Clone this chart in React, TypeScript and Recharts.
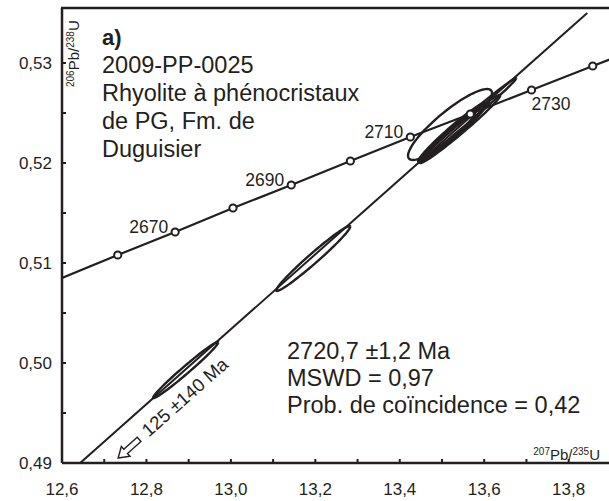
import { ScatterChart, Scatter, XAxis, YAxis } from "recharts";

const FONT = '"Liberation Sans", Arial, Helvetica, sans-serif';
const INK = "#231f20";

// concordia points (Ma) and their ratios
const concordiaAges = [2660, 2670, 2680, 2690, 2700, 2710, 2720, 2730, 2740];
const concordiaX = [12.732, 12.868, 13.005, 13.143, 13.283, 13.425, 13.567, 13.712, 13.857];
const concordiaY = [0.5108, 0.5131, 0.5155, 0.5178, 0.5202, 0.5226, 0.5249, 0.5273, 0.5297];
const labelledAges = [2670, 2690, 2710, 2730];

// concordia curve, running off both edges of the plot
const concordiaLineX = [12.6, ...concordiaX, 13.95];
const concordiaLineY = [0.5085, ...concordiaY, 0.5312];

// discordia line
const discordiaX = [12.643, 13.844];
const discordiaY = [0.49, 0.535];

// error ellipses: centre, half extent in x and y, correlation
const ellipseCx = [12.893, 13.195, 13.519, 13.56, 13.523, 13.516, 13.543];
const ellipseCy = [0.4993, 0.51045, 0.52385, 0.52435, 0.52305, 0.5227, 0.5234];
const ellipseHx = [0.077, 0.0877, 0.0995, 0.116, 0.0794, 0.063, 0.095];
const ellipseHy = [0.0028, 0.00325, 0.00355, 0.00415, 0.00295, 0.0024, 0.0034];
const ellipseRho = [0.985, 0.98, 0.88, 0.995, 0.975, 0.97, 0.985];

const xTicks = [12.6, 12.7, 12.8, 12.9, 13.0, 13.1, 13.2, 13.3, 13.4, 13.5, 13.6, 13.7, 13.8, 13.9];
const yTicks = [0.49, 0.495, 0.5, 0.505, 0.51, 0.515, 0.52, 0.525, 0.53];

const lowerIntercept = { x: 12.891, y: 0.4966, text: "125 ±140 Ma" };
const arrowTip = { x: 12.733, y: 0.4905 };

const concordiaLine = concordiaLineX.map((x, i) => ({ x, y: concordiaLineY[i] }));
const concordiaPoints = concordiaAges.map((age, i) => ({ x: concordiaX[i], y: concordiaY[i], age }));
const discordia = discordiaX.map((x, i) => ({ x, y: discordiaY[i] }));

function ellipse(i: number) {
  const d = Math.acos(ellipseRho[i]);
  const pts = [];
  for (let k = 0; k <= 90; k++) {
    const t = (2 * Math.PI * k) / 90;
    pts.push({ x: ellipseCx[i] + ellipseHx[i] * Math.cos(t), y: ellipseCy[i] + ellipseHy[i] * Math.cos(t - d) });
  }
  return pts;
}

const noDot = () => <g />;

function XTick(props: any) {
  const { x, y, payload } = props;
  const v = payload.value;
  const major = Math.abs(v * 5 - Math.round(v * 5)) < 1e-6;
  return (
    <g>
      <line x1={x} x2={x} y1={y} y2={y - 4} stroke={INK} strokeWidth={2} />
      {major && (
        <text x={x} y={y + 32} textAnchor="middle" fontSize={17} fontFamily={FONT} fill={INK}>
          {v.toFixed(1).replace(".", ",")}
        </text>
      )}
    </g>
  );
}

function YTick(props: any) {
  const { x, y, payload } = props;
  const v = payload.value;
  const major = Math.abs(v * 100 - Math.round(v * 100)) < 1e-6;
  return (
    <g>
      <line x1={x} x2={x + 4} y1={y} y2={y} stroke={INK} strokeWidth={2} />
      {major && (
        <text x={x - 10} y={y + 6} textAnchor="end" fontSize={17} fontFamily={FONT} fill={INK}>
          {v.toFixed(2).replace(".", ",")}
        </text>
      )}
    </g>
  );
}

function ConcordiaDot(props: any) {
  const { cx, cy } = props;
  const age = props.payload?.age ?? props.age;
  const labelled = labelledAges.includes(age);
  const below = age === 2730;
  return (
    <g>
      <circle cx={cx} cy={cy} r={3.6} fill="#fff" stroke={INK} strokeWidth={2} />
      {labelled && (
        <text
          x={below ? cx : cx - 7}
          y={below ? cy + 20 : cy + 1}
          textAnchor={below ? "start" : "end"}
          fontSize={17.5}
          fontFamily={FONT}
          fill={INK}
        >
          {age}
        </text>
      )}
    </g>
  );
}

function Arrow(props: any) {
  const { cx, cy } = props;
  return (
    <polygon
      points="0,0 -10,-6.5 -10,-2.8 -28,-2.8 -28,2.8 -10,2.8 -10,6.5"
      transform={`translate(${cx},${cy}) rotate(138.4)`}
      fill="#fff"
      stroke={INK}
      strokeWidth={1.4}
      strokeLinejoin="miter"
    />
  );
}

function RotatedLabel(props: any) {
  const { cx, cy } = props;
  return (
    <text
      transform={`translate(${cx},${cy}) rotate(-41.6)`}
      textAnchor="middle"
      dominantBaseline="central"
      fontSize={18.5}
      fontFamily={FONT}
      fill={INK}
    >
      {lowerIntercept.text}
    </text>
  );
}

export default function App() {
  return (
    <div style={{ position: "absolute", left: 0, top: 0, width: 609, height: 501, overflow: "hidden", background: "#fff" }}>
      <ScatterChart width={632} height={501} margin={{ top: 8, right: 0, bottom: 0, left: 0 }}>
        <XAxis
          type="number"
          dataKey="x"
          domain={[12.6, 13.95]}
          ticks={xTicks}
          interval={0}
          allowDataOverflow
          height={38}
          tickSize={0}
          tickMargin={0}
          tickLine={false}
          axisLine={{ stroke: INK, strokeWidth: 2.5 }}
          tick={<XTick />}
        />
        <YAxis
          type="number"
          dataKey="y"
          domain={[0.49, 0.5355]}
          ticks={yTicks}
          interval={0}
          allowDataOverflow
          width={62}
          tickSize={0}
          tickMargin={0}
          tickLine={false}
          axisLine={{ stroke: INK, strokeWidth: 2.5 }}
          tick={<YTick />}
        />
        <Scatter
          data={discordia}
          stroke={INK}
          strokeWidth={2}
          line={{ stroke: INK, strokeWidth: 2 }}
          shape={noDot}
          isAnimationActive={false}
        />
        <Scatter
          data={concordiaLine}
          stroke={INK}
          strokeWidth={2.2}
          line={{ stroke: INK, strokeWidth: 2.2 }}
          shape={noDot}
          isAnimationActive={false}
        />
        {ellipseCx.map((_, i) => (
          <Scatter
            key={i}
            data={ellipse(i)}
            stroke={INK}
            strokeWidth={2.4}
            line={{ stroke: INK, strokeWidth: 2.4, fill: "none" }}
            shape={noDot}
            isAnimationActive={false}
          />
        ))}
        <Scatter data={concordiaPoints} shape={<ConcordiaDot />} isAnimationActive={false} />
        <Scatter data={[arrowTip]} shape={<Arrow />} isAnimationActive={false} />
        <Scatter data={[lowerIntercept]} shape={<RotatedLabel />} isAnimationActive={false} />
      </ScatterChart>
      <svg
        width={609}
        height={501}
        style={{ position: "absolute", left: 0, top: 0, pointerEvents: "none" }}
        fontFamily={FONT}
        fill={INK}
      >
        <line x1={61} x2={609} y1={8} y2={8} stroke={INK} strokeWidth={2.5} />
        <text x={79} y={87} transform="rotate(-90 79 87)" fontSize={15}>
          <tspan fontSize={10} dy={-5}>206</tspan>
          <tspan dy={5}>Pb/</tspan>
          <tspan fontSize={10} dy={-5}>238</tspan>
          <tspan dy={5}>U</tspan>
        </text>
        <text x={600} y={460} textAnchor="end" fontSize={15}>
          <tspan fontSize={10} dy={-5}>207</tspan>
          <tspan dy={5}>Pb/</tspan>
          <tspan fontSize={10} dy={-5}>235</tspan>
          <tspan dy={5}>U</tspan>
        </text>
        <text x={102} y={45} fontSize={22} fontWeight="bold">a)</text>
        <text fontSize={23.5}>
          <tspan x={102} y={73}>2009-PP-0025</tspan>
          <tspan x={102} y={101}>Rhyolite à phénocristaux</tspan>
          <tspan x={102} y={129}>de PG, Fm. de</tspan>
          <tspan x={102} y={157}>Duguisier</tspan>
        </text>
        <text fontSize={23.5}>
          <tspan x={287} y={359}>2720,7 ±1,2 Ma</tspan>
          <tspan x={287} y={386}>MSWD = 0,97</tspan>
          <tspan x={287} y={413}>Prob. de coïncidence = 0,42</tspan>
        </text>
      </svg>
    </div>
  );
}
